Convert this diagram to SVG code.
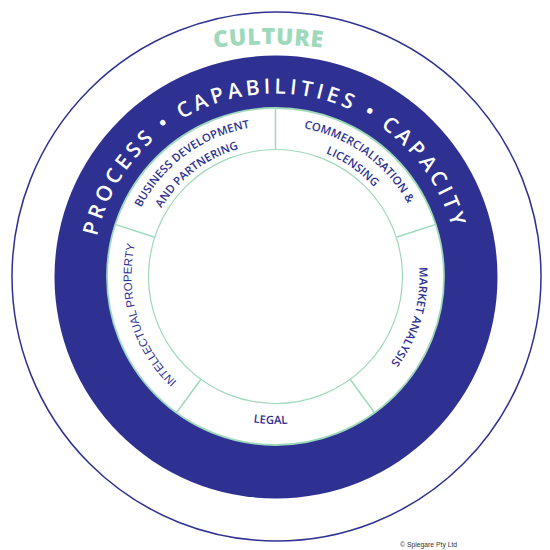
<svg xmlns="http://www.w3.org/2000/svg" width="550" height="550" viewBox="0 0 550 550">
<style>
.navy{fill:#2e3192}
.mint{stroke:#9fd9bb;fill:none}
.main{font-family:"Open Sans","Liberation Sans",sans-serif;font-size:21px;font-weight:600;letter-spacing:3.85px;fill:#ffffff}
.seg{font-family:"Open Sans","Liberation Sans",sans-serif;font-size:11.3px;font-weight:600;letter-spacing:0.1px;fill:#2e3192}
.segA{font-family:"Liberation Sans",Arial,sans-serif;font-size:11.5px;fill:#2e3192}
</style>
<defs>
<path id="pMain" d="M92.5,276.5 A183,183 0 0 1 458.5,276.5"/>
<path id="p151" d="M124.5,276.5 A151,151 0 0 1 426.5,276.5"/>
<path id="p133" d="M142.5,276.5 A133,133 0 0 1 408.5,276.5"/>
<path id="pLeft" d="M275.5,420.5 A144,144 0 0 1 275.5,132.5 A144,144 0 0 1 275.5,420.5"/>
<path id="pRight" d="M275.5,132.5 A144,144 0 0 1 275.5,420.5 A144,144 0 0 1 275.5,132.5"/>
<path id="pBottom" d="M128,276.5 A147.5,147.5 0 0 0 423,276.5"/>
<path id="pCulture" d="M148.5,60.8 A450,450 0 0 1 388.5,60.8"/>
</defs>
<rect width="550" height="550" fill="#ffffff"/>
<g id="culture-ring">
<circle cx="276.5" cy="276.5" r="264.5" fill="#ffffff" stroke="#2e3192" stroke-width="1.5"/>
<text font-family="'Open Sans','Liberation Sans',sans-serif" font-size="23" font-weight="800" letter-spacing="0.6" fill="#9fd9bb"><textPath href="#pCulture" startOffset="121.5" text-anchor="middle">CULTURE</textPath></text>
</g>
<g id="ppc-ring">
<circle cx="276" cy="277" r="221.5" class="navy"/>
<text class="main"><textPath href="#pMain" startOffset="284" text-anchor="middle">PROCESS • CAPABILITIES • CAPACITY</textPath></text>
</g>
<g id="inner-ring">
<circle cx="275.5" cy="276.5" r="168.5" fill="#ffffff" stroke="#9fd9bb" stroke-width="1.8"/>
<circle cx="275.5" cy="276.5" r="127" fill="#ffffff" stroke="#9fd9bb" stroke-width="1.2"/>
</g>
<g id="dividers" class="mint" stroke-width="1.5">
<line x1="275.5" y1="149.5" x2="275.5" y2="108"/>
<line x1="396.3" y1="237.3" x2="435.8" y2="224.4"/>
<line x1="350.1" y1="379.2" x2="374.5" y2="412.8"/>
<line x1="200.9" y1="379.2" x2="176.5" y2="412.8"/>
<line x1="154.7" y1="237.3" x2="115.2" y2="224.4"/>
</g>
<g id="business-development">
<text class="seg"><textPath href="#p151" startOffset="141.3" text-anchor="middle">BUSINESS DEVELOPMENT</textPath></text>
<text class="seg"><textPath href="#p133" startOffset="121.6" text-anchor="middle">AND PARTNERING</textPath></text>
</g>
<g id="commercialisation">
<text class="seg"><textPath href="#p151" startOffset="332.1" text-anchor="middle">COMMERCIALISATION &amp;</textPath></text>
<text class="seg"><textPath href="#p133" startOffset="290.1" text-anchor="middle">LICENSING</textPath></text>
</g>
<g id="market-analysis">
<text class="seg" font-size="10.8"><textPath href="#pRight" startOffset="267.9" text-anchor="middle">MARKET ANALYSIS</textPath></text>
</g>
<g id="legal">
<text class="seg" font-size="12" letter-spacing="0.6"><textPath href="#pBottom" startOffset="226.5" text-anchor="middle">LEGAL</textPath></text>
</g>
<g id="intellectual-property">
<text class="segA"><textPath href="#pLeft" startOffset="183.5" text-anchor="middle">INTELLECTUAL PROPERTY</textPath></text>
</g>
<text x="400" y="547" font-family="'Liberation Sans',Arial,sans-serif" font-size="6.8" fill="#333333">© Spiegare Pty Ltd</text>
</svg>
